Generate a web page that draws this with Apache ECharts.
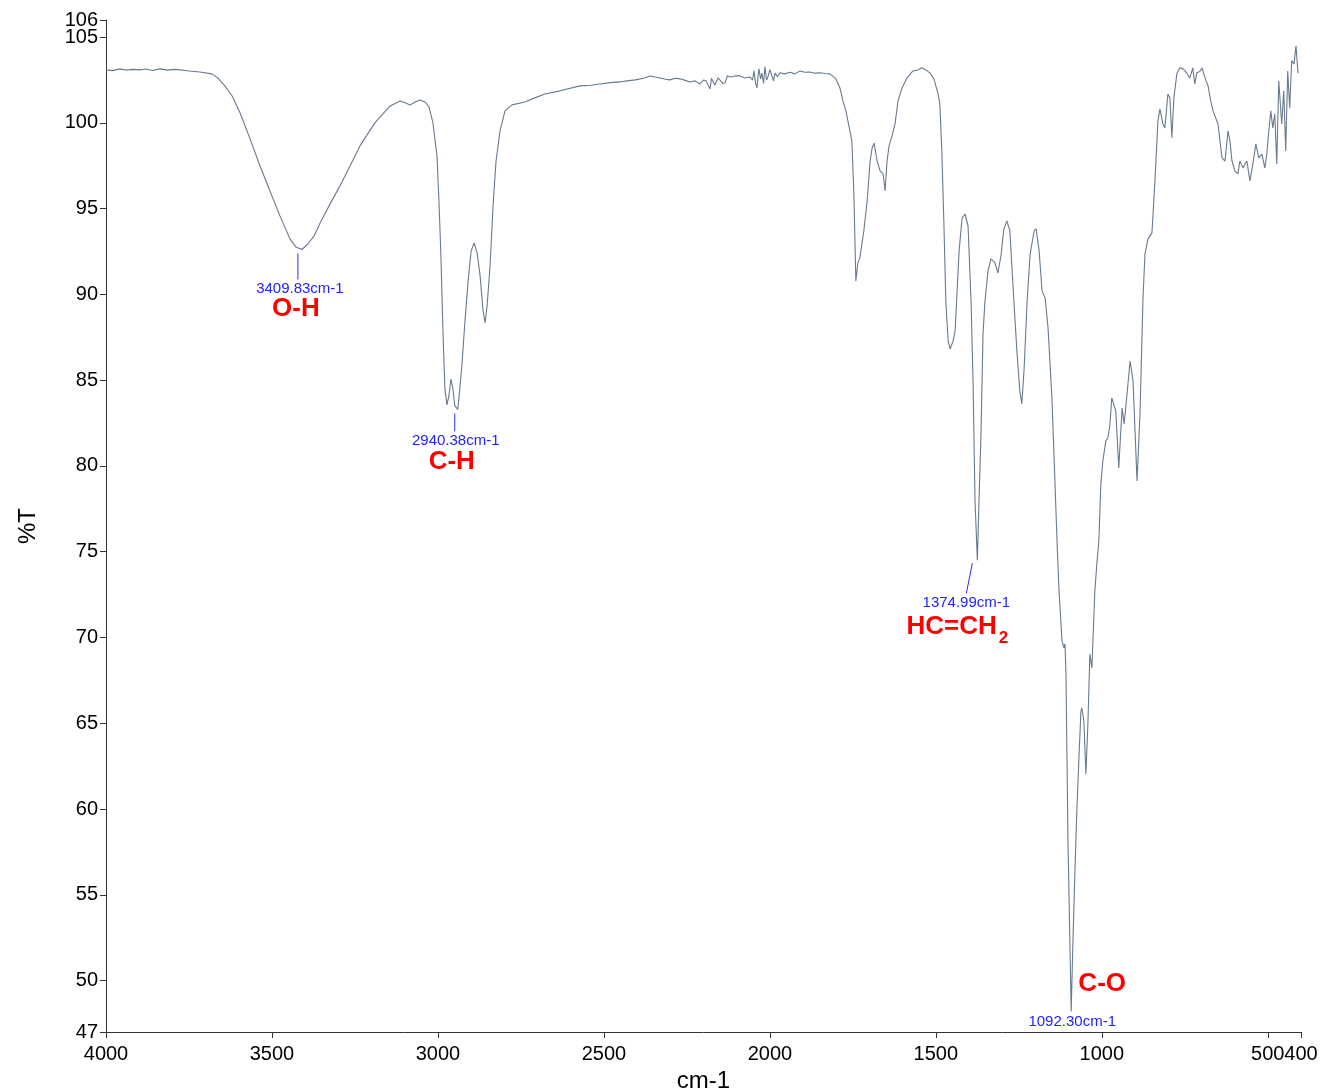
<!DOCTYPE html>
<html>
<head>
<meta charset="utf-8">
<script src="https://cdn.jsdelivr.net/npm/echarts@6/dist/echarts.min.js"></script>
<style>
html,body{margin:0;padding:0;background:#fff;}
#chart{width:1324px;height:1091px;}
</style>
</head>
<body>
<div id="chart"></div>
<script>
// Wavenumbers (cm-1)
const wavenumbers = [
4000,3980,3958,3940,3920,3898,3880,3860,3837,3815,3795,3777,3750,3717,3681,3662,3642,3620,3596,3566,3536,3506,3476,3446,3428,
3409.83,3392,3373,3355,3325,3295,3265,3235,3190,3144,3114,3099,3084,3069,3054,3039,3027,3015,3003,2997,2991,2985,2979,2973,2967,2961,2955,2949,
2940.38,2937,2928,2919,2909,2900,2891,2882,2873,2864,2858,2852,2843,2834,2825,2813,2798,2777,2738,2708,2678,2632,2572,2540,2512,2480,2452,2430,2406,2380,2361,2345,
2331,2315,2301,2285,2271,2255,2241,2225,2211,2200,2192,2186,2180,2176,2171,2166,2162,2156,2150,2142,2135,2128,2120,2105,2090,2075,2060,2052,2048,2043,2039,2036,2033,2028,2024,2019,2015,2010,2006,2000,1994,1989,1985,1977,1970,1955,1939,1925,1909,1895,1879,1865,
1849,1834,1819,1801,1789,1780,1771,1759,1753,1747,1741,1735,1729,1723,1717,1707,1698,1692,1686,1677,1668,1659,1653,1647,1641,1632,1623,1614,1602,1587,1569,1554,1542,1530,1518,1506,
1494,1488,1482,1476,1470,1463,1457,1448,1442,1436,1430,1421,1412,1403,1394,1388,1382,1374.99,1370,1364,1358,1352,1343,1334,1322,1313,1304,1295,1286,1277,1268,1256,1247,1241,1234,
1225,1216,1204,1198,1189,1180,1171,1162,1150,1141,1135,1129,1120,1114,1111,1108,1102,1092.30,1087,1081,1075,1069,1063,1060,1054,1048,1042,1036,1030,1021,1015,1009,1003,997,988,982,
976,970,964,958,949,939,933,924,915,906,900,894,885,876,870,861,849,840,831,825,816,810,801,795,789,783,774,765,755,744,735,726,720,714,705,698,692,686,680,672,665,650,638,629,
620,614,608,599,590,584,575,563,554,545,536,527,518,509,503,497,491,485,479,473,467,458,452,446,440,434,428,421,415,409,406,403,400
];
// Transmittance (%T) at each wavenumber
const transmittance = [
103.09,103.05,103.15,103.08,103.12,103.09,103.14,103.06,103.15,103.08,103.12,103.09,103.03,102.97,102.86,102.6,102.16,101.57,100.58,99.07,97.49,96.03,94.58,93.24,92.77,
92.62,92.94,93.41,94.17,95.28,96.33,97.49,98.66,100.0,100.99,101.28,101.17,101.05,101.22,101.34,101.22,100.93,100.0,98.08,95.45,92.24,87.87,84.49,83.56,84.08,85.07,84.49,83.5,
83.3,83.91,85.83,88.34,90.79,92.54,93.0,92.42,91.08,89.04,88.34,89.33,91.66,95.16,97.78,99.53,100.7,101.05,101.22,101.46,101.69,101.87,102.16,102.2,102.27,102.35,102.39,102.45,102.51,102.6,102.74,102.68,
102.62,102.55,102.51,102.6,102.57,102.48,102.39,102.45,102.27,102.5,102.45,102.2,101.98,102.6,102.57,102.2,102.16,102.62,102.57,102.3,102.33,102.75,102.68,102.74,102.74,102.62,102.68,102.5,103.03,102.3,102.04,102.7,103.15,102.57,102.9,102.3,103.27,102.5,102.68,103.1,103.03,102.45,102.9,102.7,102.92,102.86,102.95,102.86,103.03,102.95,102.97,102.9,
102.92,102.88,102.86,102.57,102.04,101.28,100.7,99.53,98.95,95.86,90.79,91.84,92.13,92.24,93.7,95.45,97.78,98.54,98.83,97.78,97.2,97.03,96.03,97.78,98.66,99.24,99.94,101.28,102.04,102.62,103.03,103.09,103.21,103.09,102.92,102.57,
101.75,101.11,98.37,94.29,89.62,87.29,86.82,87.29,87.87,90.2,92.54,94.46,94.69,93.99,89.62,84.96,77.96,74.5,77.96,81.87,87.7,89.62,91.37,92.07,91.84,91.25,92.24,93.82,94.29,93.7,90.61,86.71,84.37,83.62,85.71,
89.62,92.36,93.7,93.82,92.54,90.2,89.8,88.05,83.79,78.95,75.63,72.71,69.8,69.39,69.62,67.87,58.13,48.2,52.3,56.38,60.06,62.97,65.71,65.89,65.13,62.04,64.96,69.04,68.22,72.71,74.29,75.63,78.95,80.29,81.46,81.63,
82.33,83.97,84.08,83.21,79.88,83.38,82.45,84.2,86.12,84.96,82.04,79.13,83.03,89.8,92.36,93.24,93.59,96.62,100.12,100.82,99.94,99.71,101.69,101.46,99.13,101.46,102.86,103.21,103.15,102.9,102.62,103.21,102.27,102.92,103.0,103.21,102.8,102.45,102.16,101.28,100.7,
99.94,97.96,97.78,99.53,98.95,97.78,97.2,97.03,97.78,97.38,97.78,96.62,97.61,98.78,97.96,98.19,97.38,98.19,99.53,100.7,99.71,100.52,97.61,102.45,99.94,101.87,98.37,103.03,100.87,103.62,103.44,104.49,102.9
];
// Peak annotations
const peakWn = [3409.83, 2940.38, 1374.99, 1092.30];
const peakT = [92.62, 83.3, 74.5, 48.2];
const peakText = ['3409.83cm-1', '2940.38cm-1', '1374.99cm-1', '1092.30cm-1'];
const groupText = ['O-H', 'C-H', 'HC=CH2', 'C-O'];
// Axis tick values
const xTicks = [4000, 3500, 3000, 2500, 2000, 1500, 1000, 500, 400];
const yTicks = [47, 50, 55, 60, 65, 70, 75, 80, 85, 90, 95, 100, 105];
const yTopTick = [106];

const spectrum = wavenumbers.map((w, i) => [w, transmittance[i]]);
const peaks = peakWn.map((w, i) => [w, peakT[i], i]);

// pixel offsets for annotation pieces (style only)
const annotStyle = [
  {l: [-4, 4, -4, 30], bx: -2, by: 39, rx: -6, ry: 59},
  {l: [-3, 4, -3, 22], bx: -2, by: 31, rx: -6, ry: 52},
  {l: [-5, 3, -11, 33], bx: -11, by: 43, rx: -20, ry: 67},
  {l: [0, 0, 0, 0], bx: 1, by: 10, rx: 31, ry: -28}
];

const chart = echarts.init(document.getElementById('chart'), null, {renderer: 'canvas'});
const axisCol = '#333';
const plain = v => String(v);
const yLabelStyle = {formatter: plain, showMinLabel: true, showMaxLabel: true, hideOverlap: false,
  fontFamily: 'Liberation Sans', fontSize: 20, color: '#000', margin: 8};
chart.setOption({
  animation: false,
  backgroundColor: '#fff',
  grid: {left: 106, right: 23, top: 20, bottom: 59, outerBoundsMode: 'none', containLabel: false},
  xAxis: {
    type: 'value', min: 400, max: 4000, inverse: true,
    name: 'cm-1', nameLocation: 'middle', nameGap: 32,
    nameTextStyle: {fontFamily: 'Liberation Sans', fontSize: 24, color: '#000'},
    axisLine: {show: true, onZero: false, lineStyle: {color: axisCol, width: 1}},
    axisTick: {show: true, length: 6, customValues: xTicks, lineStyle: {color: axisCol}},
    axisLabel: {customValues: xTicks, formatter: plain, showMinLabel: true, showMaxLabel: true, hideOverlap: false,
      fontFamily: 'Liberation Sans', fontSize: 20, color: '#000', margin: 12},
    splitLine: {show: false}
  },
  yAxis: [{
    type: 'value', min: 47, max: 106, position: 'left',
    name: '%T', nameLocation: 'middle', nameGap: 66,
    nameTextStyle: {fontFamily: 'Liberation Sans', fontSize: 24, color: '#000'},
    axisLine: {show: true, onZero: false, lineStyle: {color: axisCol, width: 1}},
    axisTick: {show: true, length: 6, customValues: yTicks, lineStyle: {color: axisCol}},
    axisLabel: Object.assign({customValues: yTicks}, yLabelStyle),
    splitLine: {show: false}
  }, {
    type: 'value', min: 47, max: 106, position: 'left', offset: 0,
    axisLine: {show: false},
    axisTick: {show: true, length: 6, customValues: yTopTick, lineStyle: {color: axisCol}},
    axisLabel: Object.assign({customValues: yTopTick}, yLabelStyle),
    splitLine: {show: false}
  }],
  series: [
    {
      type: 'line', data: spectrum, showSymbol: false, symbol: 'none', yAxisIndex: 0,
      lineStyle: {color: '#687a8d', width: 1.1}, z: 2
    },
    {
      type: 'custom', data: peaks, z: 3, yAxisIndex: 0,
      renderItem: function (params, api) {
        const p = api.coord([api.value(0), api.value(1)]);
        const i = api.value(2);
        const s = annotStyle[i];
        const children = [];
        if (s.l[3] !== s.l[1]) {
          children.push({type: 'line', shape: {x1: p[0] + s.l[0], y1: p[1] + s.l[1], x2: p[0] + s.l[2], y2: p[1] + s.l[3]},
            style: {stroke: '#2a2aff', lineWidth: 1}});
        }
        children.push({type: 'text', x: p[0] + s.bx, y: p[1] + s.by,
          style: {text: peakText[i], fill: '#2323ff', font: '15px "Liberation Sans"', align: 'center', verticalAlign: 'middle'}});
        const g = groupText[i];
        if (g === 'HC=CH2') {
          children.push({type: 'text', x: p[0] + s.rx, y: p[1] + s.ry,
            style: {text: '{a|HC=CH}{b|2}', align: 'center', verticalAlign: 'middle',
              rich: {a: {fill: '#ff0000', fontWeight: 'bold', fontSize: 26, fontFamily: 'Liberation Sans'},
                     b: {fill: '#ff0000', fontWeight: 'bold', fontSize: 17, fontFamily: 'Liberation Sans', padding: [22, 0, 0, 2]}}}});
        } else {
          children.push({type: 'text', x: p[0] + s.rx, y: p[1] + s.ry,
            style: {text: g, fill: '#ff0000', font: 'bold 26px "Liberation Sans"', align: 'center', verticalAlign: 'middle'}});
        }
        return {type: 'group', children: children};
      }
    }
  ]
});
</script>
</body>
</html>
